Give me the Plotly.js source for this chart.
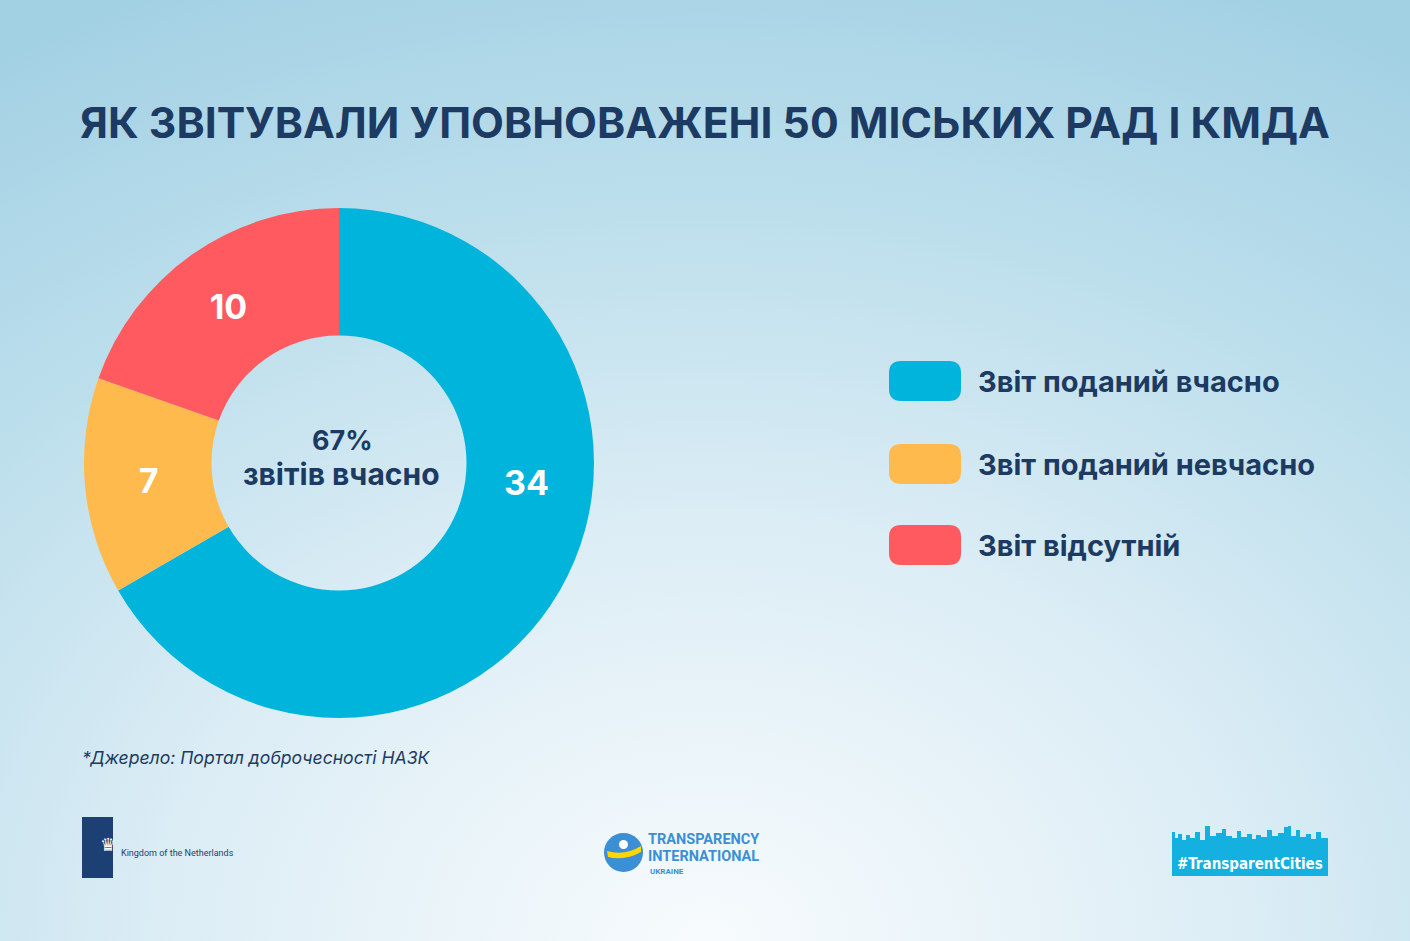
<!DOCTYPE html>
<html>
<head>
<meta charset="utf-8">
<script src="https://cdn.plot.ly/plotly-3.0.1.min.js"></script>
<style>
html,body{margin:0;padding:0;width:1410px;height:941px;overflow:hidden;}
body{background:radial-gradient(ellipse 95% 110% at 50% 100%, #f7fbfd 0%, #dcedf5 40%, #bddfec 70%, #a3d1e4 100%);}
#chart{width:1410px;height:941px;}
</style>
</head>
<body>
<div id="chart"></div>
<script>
// ---- data ----
const categories = ["Звіт поданий вчасно", "Звіт поданий невчасно", "Звіт відсутній"];
const values = [34, 7, 10];
const colors = ["#00b4dc", "#ffba4d", "#ff5a5f"];
const titleText = "ЯК ЗВІТУВАЛИ УПОВНОВАЖЕНІ 50 МІСЬКИХ РАД І КМДА";
const centerLine2 = "звітів вчасно";
const sourceText = "*Джерело: Портал доброчесності НАЗК";

const navy = "#1c3a62";
const W = 1410, H = 941;
const px = x => x / W;
const py = y => 1 - y / H;

const total = values.reduce((a, b) => a + b, 0);
const pct = Math.round(values[0] / total * 100);

// pie geometry (pixels)
const cx = 339, cy = 463, R = 255;

const trace = {
  type: "pie",
  labels: categories,
  values: values,
  text: values.map((v, i) => i === 0 ? "" : String(v)),
  marker: { colors: colors, line: { width: 0 } },
  hole: 0.5,
  sort: false,
  direction: "clockwise",
  rotation: 0,
  textinfo: "text",
  textposition: "inside",
  insidetextorientation: "horizontal",
  textfont: { family: "Inter, 'Open Sans', sans-serif", size: 34, color: "#ffffff", weight: 700 },
  domain: { x: [px(cx - R), px(cx + R)], y: [py(cy + R), py(cy - R)] },
  showlegend: false,
  hoverinfo: "label+value+percent"
};

const shapes = [];
const annotations = [];

// label of the big slice, placed inside it along its arc
const bigAngle = values[0] / total * 2 * Math.PI * 0.4;
const rLab = 0.74 * R;
annotations.push({
  text: "<b>" + values[0] + "</b>", xref: "paper", yref: "paper",
  x: px(cx + rLab * Math.sin(bigAngle)), y: py(cy - rLab * Math.cos(bigAngle)),
  xanchor: "center", yanchor: "middle", showarrow: false,
  font: { family: "Inter, sans-serif", size: 34, color: "#ffffff" }
});

// title
annotations.push({
  text: "<b>" + titleText + "</b>", xref: "paper", yref: "paper",
  x: px(705), y: py(123), xanchor: "center", yanchor: "middle", showarrow: false,
  font: { family: "Inter, sans-serif", size: 42.7, color: navy }
});

// center text
annotations.push({
  text: "<b>" + pct + "%</b>", xref: "paper", yref: "paper",
  x: px(342), y: py(440), xanchor: "center", yanchor: "middle", showarrow: false,
  font: { family: "Inter, sans-serif", size: 27, color: navy }
});
annotations.push({
  text: "<b>" + centerLine2 + "</b>", xref: "paper", yref: "paper",
  x: px(341), y: py(474), xanchor: "center", yanchor: "middle", showarrow: false,
  font: { family: "Inter, sans-serif", size: 30, color: navy }
});

// custom legend
const legendY = [381, 464, 545];
categories.forEach((c, i) => {
  const y0 = legendY[i] - 20, y1 = legendY[i] + 20, x0 = 889, x1 = 961, r = 12;
  shapes.push({
    type: "path", xref: "paper", yref: "paper", layer: "above",
    path: "", fillcolor: colors[i], line: { width: 0 },
    _box: [x0, y0, x1, y1, r]
  });
  annotations.push({
    text: "<b>" + c + "</b>", xref: "paper", yref: "paper",
    x: px(976), y: py(legendY[i]), xanchor: "left", yanchor: "middle", showarrow: false,
    font: { family: "Inter, sans-serif", size: 29, color: navy }
  });
});

// source
annotations.push({
  text: "<i>" + sourceText + "</i>", xref: "paper", yref: "paper",
  x: px(80), y: py(757), xanchor: "left", yanchor: "middle", showarrow: false,
  font: { family: "Inter, sans-serif", size: 17.6, color: navy }
});

// ---- logos ----
// Netherlands
shapes.push({ type: "rect", xref: "paper", yref: "paper", x0: px(82), x1: px(113), y0: py(878), y1: py(817), fillcolor: "#1c3f74", line: { width: 0 } });
annotations.push({ text: "♛", xref: "paper", yref: "paper", x: px(97.5), y: py(858), showarrow: false,
  font: { size: 18, color: "#ffffff" } });
annotations.push({ text: "Kingdom of the Netherlands", xref: "paper", yref: "paper", x: px(119), y: py(853),
  xanchor: "left", yanchor: "middle", showarrow: false, font: { family: "Roboto, sans-serif", size: 9, color: "#1c3f74" } });

// Transparency International
shapes.push({ type: "circle", xref: "paper", yref: "paper", x0: px(604), x1: px(643), y0: py(872), y1: py(833), fillcolor: "#3b8fd4", line: { width: 0 } });
shapes.push({ type: "path", xref: "paper", yref: "paper",
  path: `M ${px(607)} ${py(851)} Q ${px(625)} ${py(856)} ${px(641)} ${py(846)} L ${px(641)} ${py(852)} Q ${px(625)} ${py(861)} ${px(608)} ${py(857)} Z`,
  fillcolor: "#ffd500", line: { width: 0 } });
shapes.push({ type: "circle", xref: "paper", yref: "paper", x0: px(619), x1: px(628), y0: py(849), y1: py(840), fillcolor: "#ffffff", line: { width: 0 } });
annotations.push({ text: "<b>TRANSPARENCY</b>", xref: "paper", yref: "paper", x: px(646), y: py(839),
  xanchor: "left", yanchor: "middle", showarrow: false,
  font: { family: "Roboto, sans-serif", size: 14.5, color: "#3b8fd4" } });
annotations.push({ text: "<b>INTERNATIONAL</b>", xref: "paper", yref: "paper", x: px(646), y: py(856.5),
  xanchor: "left", yanchor: "middle", showarrow: false,
  font: { family: "Roboto, sans-serif", size: 14.5, color: "#3b8fd4" } });
annotations.push({ text: "<b>UKRAINE</b>", xref: "paper", yref: "paper", x: px(648), y: py(871),
  xanchor: "left", yanchor: "middle", showarrow: false,
  font: { family: "Roboto, sans-serif", size: 8, color: "#3b8fd4" } });

// Transparent Cities
const sky = [[1172,843],[1172,832],[1175,832],[1175,838],[1178,838],[1178,834],[1182,834],[1182,840],[1186,840],[1186,835],[1190,835],[1190,838],[1195,838],[1195,832],[1200,832],[1200,840],[1205,840],[1205,826],[1210,826],[1210,836],[1216,836],[1216,833],[1222,833],[1222,829],[1226,829],[1226,836],[1232,836],[1232,838],[1237,838],[1237,831],[1241,831],[1241,837],[1247,837],[1247,834],[1252,834],[1252,839],[1256,839],[1256,835],[1261,835],[1261,837],[1267,837],[1267,830],[1272,830],[1272,836],[1278,836],[1278,833],[1284,833],[1284,827],[1288,827],[1288,826],[1291,826],[1291,836],[1296,836],[1296,830],[1300,830],[1300,837],[1306,837],[1306,834],[1311,834],[1311,839],[1316,839],[1316,832],[1321,832],[1321,838],[1328,838],[1328,876],[1172,876]];
shapes.push({ type: "path", xref: "paper", yref: "paper",
  path: "M " + sky.map(p => px(p[0]) + " " + py(p[1])).join(" L ") + " Z",
  fillcolor: "#14b1e0", line: { width: 0 } });
annotations.push({ text: "<b>#TransparentCities</b>", xref: "paper", yref: "paper", x: px(1250), y: py(864),
  xanchor: "center", yanchor: "middle", showarrow: false, font: { family: "'DejaVu Sans Condensed', 'Liberation Sans Narrow', sans-serif", size: 15, color: "#ffffff" } });

// build rounded rect paths
shapes.forEach(s => {
  if (s._box) {
    const [x0, y0, x1, y1, r] = s._box;
    const P = (x, y) => px(x) + "," + py(y);
    s.path = `M ${P(x0 + r, y0)} L ${P(x1 - r, y0)} Q ${P(x1, y0)} ${P(x1, y0 + r)} L ${P(x1, y1 - r)} Q ${P(x1, y1)} ${P(x1 - r, y1)} L ${P(x0 + r, y1)} Q ${P(x0, y1)} ${P(x0, y1 - r)} L ${P(x0, y0 + r)} Q ${P(x0, y0)} ${P(x0 + r, y0)} Z`;
    delete s._box;
  }
});

const layout = {
  width: W, height: H,
  margin: { l: 0, r: 0, t: 0, b: 0 },
  paper_bgcolor: "rgba(0,0,0,0)",
  plot_bgcolor: "rgba(0,0,0,0)",
  shapes: shapes,
  annotations: annotations,
  showlegend: false
};

Plotly.newPlot("chart", [trace], layout, { displayModeBar: false, staticPlot: true });
</script>
</body>
</html>
